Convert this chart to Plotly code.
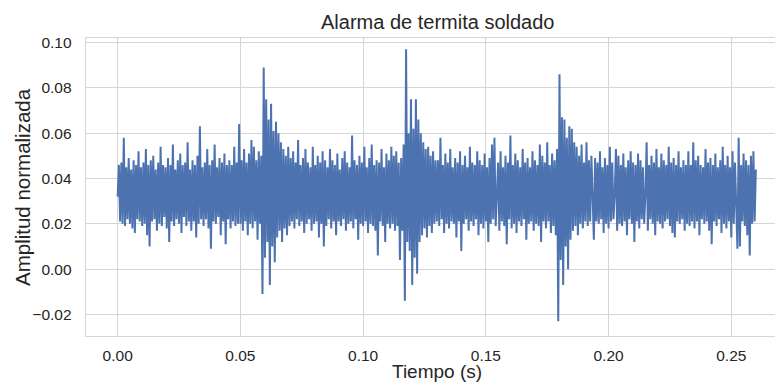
import numpy as np
import plotly.graph_objects as go

# ---- data ----
DURATION = 0.26  # seconds covered by the recording

seg_quiet_1 = [
    0.032, 0.046, 0.021, 0.047, 0.020, 0.058, 0.019, 0.045, 0.022, 0.049,
    0.020, 0.044, 0.018, 0.048, 0.016, 0.046, 0.022, 0.052, 0.021, 0.045,
    0.019, 0.047, 0.020, 0.053, 0.015, 0.046, 0.010, 0.048, 0.021, 0.050,
    0.022, 0.044, 0.017, 0.047, 0.020, 0.054, 0.019, 0.046, 0.023, 0.045,
    0.018, 0.049, 0.012, 0.046, 0.021, 0.055, 0.019, 0.044, 0.022, 0.048,
    0.020, 0.051, 0.016, 0.046, 0.023, 0.047, 0.019, 0.056, 0.021, 0.044,
    0.017, 0.048, 0.021, 0.046, 0.014, 0.050, 0.020, 0.063, 0.022, 0.045,
    0.019, 0.047, 0.022, 0.053, 0.018, 0.046, 0.009, 0.048, 0.021, 0.055,
    0.020, 0.045, 0.023, 0.049, 0.015, 0.047, 0.021, 0.051, 0.011, 0.046,
    0.022, 0.048, 0.018, 0.046, 0.021, 0.054, 0.019, 0.047, 0.020, 0.064,
]
seg_event_1 = [
    0.020, 0.048, 0.017, 0.053, 0.021, 0.047, 0.015, 0.051, 0.020, 0.057,
    0.018, 0.054, 0.021, 0.048, 0.013, 0.052, 0.020, 0.050, -0.011, 0.089,
    0.005, 0.075, 0.012, 0.066, -0.007, 0.073, 0.010, 0.061, 0.003, 0.065,
    0.014, 0.060, 0.017, 0.056, 0.012, 0.053, 0.018, 0.050, 0.015, 0.054,
]
seg_quiet_2 = [
    0.019, 0.049, 0.021, 0.052, 0.018, 0.047, 0.022, 0.057, 0.019, 0.046,
    0.021, 0.049, 0.016, 0.053, 0.020, 0.047, 0.022, 0.045, 0.017, 0.054,
    0.020, 0.046, 0.021, 0.050, 0.014, 0.047, 0.020, 0.052, 0.010, 0.048,
    0.019, 0.045, 0.022, 0.053, 0.018, 0.048, 0.021, 0.046, 0.015, 0.051,
    0.021, 0.044, 0.019, 0.049, 0.022, 0.052, 0.017, 0.047, 0.020, 0.045,
    0.021, 0.059, 0.018, 0.048, 0.022, 0.046, 0.013, 0.050, 0.020, 0.047,
    0.019, 0.054, 0.021, 0.045, 0.016, 0.049, 0.020, 0.055, 0.019, 0.046,
    0.017, 0.048, 0.006, 0.047, 0.021, 0.053, 0.019, 0.045, 0.012, 0.051,
    0.020, 0.048, 0.018, 0.054, 0.020,
]
seg_event_2 = [
    0.050, 0.017, 0.052, 0.019, 0.047, 0.004, 0.049, 0.017, 0.055, -0.014,
    0.097, 0.012, 0.060, 0.008, 0.075, -0.007, 0.062, 0.005, 0.075, -0.002,
    0.066, 0.012, 0.060, 0.015, 0.056, 0.018, 0.053, 0.014, 0.054, 0.019,
    0.050, 0.016, 0.052, 0.020, 0.048,
]
seg_quiet_3 = [
    0.021, 0.048, 0.019, 0.058, 0.022, 0.046, 0.016, 0.051, 0.020, 0.047,
    0.018, 0.053, 0.021, 0.045, 0.020, 0.049, 0.014, 0.047, 0.021, 0.052,
    0.008, 0.046, 0.020, 0.050, 0.022, 0.045, 0.017, 0.054, 0.021, 0.047,
    0.019, 0.046, 0.022, 0.052, 0.015, 0.048, 0.020, 0.046, 0.018, 0.051,
    0.021, 0.045, 0.012, 0.049, 0.020, 0.055, 0.022, 0.058, 0.019, 0.032,
    0.047, 0.017, 0.052, 0.021, 0.045, 0.019, 0.050, 0.011, 0.047, 0.022,
    0.059, 0.018, 0.046, 0.020, 0.051, 0.016, 0.048, 0.021, 0.045, 0.019,
    0.053, 0.022, 0.047, 0.013, 0.049, 0.020, 0.045, 0.021, 0.052, 0.017,
    0.048, 0.020, 0.046, 0.019, 0.055, 0.012, 0.050, 0.021, 0.047, 0.018,
    0.056, 0.021, 0.046, 0.016, 0.051,
]
seg_event_3 = [
    0.019, 0.048, 0.015, 0.053, -0.023, 0.086, 0.004, 0.067, -0.007, 0.066,
    0.010, 0.058, 0.000, 0.063, 0.013, 0.062, 0.017, 0.056, 0.019, 0.054,
    0.015, 0.050, 0.020, 0.055, 0.018,
]
seg_quiet_4 = [
    0.047, 0.021, 0.056, 0.019, 0.048, 0.021, 0.050, 0.032, 0.013, 0.049,
    0.021, 0.047, 0.020, 0.052, 0.022, 0.045, 0.016, 0.049, 0.020, 0.046,
    0.018, 0.054, 0.021, 0.047, 0.022, 0.033, 0.053, 0.017, 0.050, 0.020,
    0.046, 0.019, 0.051, 0.021, 0.045, 0.015, 0.048, 0.022, 0.052, 0.020,
    0.047, 0.012, 0.046, 0.021, 0.051, 0.018, 0.048, 0.022, 0.045, 0.020,
    0.033, 0.056, 0.017, 0.046, 0.022, 0.050, 0.020, 0.047, 0.015, 0.053,
    0.021, 0.045, 0.020, 0.051, 0.018, 0.048, 0.021, 0.046, 0.022, 0.054,
    0.019, 0.047, 0.016, 0.049, 0.014, 0.046, 0.021, 0.052, 0.020, 0.045,
    0.022, 0.048, 0.017, 0.046, 0.020, 0.052, 0.019, 0.046, 0.021, 0.056,
    0.018, 0.048, 0.021, 0.050, 0.015, 0.046, 0.022, 0.045, 0.020, 0.053,
    0.021, 0.047, 0.017, 0.049, 0.011, 0.046, 0.021, 0.051, 0.019, 0.045,
    0.022, 0.048, 0.016, 0.054, 0.020, 0.046, 0.018, 0.050, 0.021, 0.045,
    0.014, 0.052, 0.020, 0.047, 0.032, 0.009, 0.058, 0.010, 0.046, 0.021,
    0.051, 0.019, 0.048, 0.015, 0.046, 0.006, 0.050, 0.020, 0.052, 0.021,
    0.044,
]

amplitude = (seg_quiet_1 + seg_event_1 + seg_quiet_2 + seg_event_2
             + seg_quiet_3 + seg_event_3 + seg_quiet_4)
time_s = np.linspace(0.0, DURATION, len(amplitude))

x_ticks = [0.00, 0.05, 0.10, 0.15, 0.20, 0.25]
y_ticks = [-0.02, 0.00, 0.02, 0.04, 0.06, 0.08, 0.10]

TITLE = "Alarma de termita soldado"
X_LABEL = "Tiempo (s)"
Y_LABEL = "Amplitud normalizada"

# ---- figure ----
FONT = "Liberation Sans, Arial, sans-serif"
TXT = "#262626"
GRID = "#d5d5d5"

fig = go.Figure(go.Scatter(
    x=time_s, y=amplitude, mode="lines",
    line=dict(color="#4C72B0", width=2.0),
    hoverinfo="skip", showlegend=False,
))

fig.update_layout(
    width=775, height=383,
    margin=dict(l=86, r=0, t=38, b=47),
    paper_bgcolor="white", plot_bgcolor="white",
    font=dict(family=FONT, color=TXT),
    annotations=[
        dict(text=TITLE, xref="paper", yref="paper", x=0.5096, y=1.0,
             xanchor="center", yanchor="bottom", yshift=3, showarrow=False,
             font=dict(size=20, color=TXT, family=FONT)),
        dict(text=X_LABEL, xref="paper", yref="paper", x=0.5096, y=0.0,
             xanchor="center", yanchor="bottom", yshift=-47, showarrow=False,
             height=21, borderpad=0, valign="middle",
             font=dict(size=19, color=TXT, family=FONT)),
        dict(text=Y_LABEL, xref="paper", yref="paper", x=0.0, y=0.5,
             xanchor="center", yanchor="middle", xshift=-64, textangle=-90,
             showarrow=False, font=dict(size=20.5, color=TXT, family=FONT)),
    ],
)
fig.update_xaxes(
    range=[-0.0129, 0.2678], tickvals=x_ticks, tickformat=".2f",
    showgrid=True, gridcolor=GRID, gridwidth=1.2, zeroline=False,
    showline=True, linecolor=GRID, linewidth=1.3, mirror=True,
    ticks="", ticklabelstandoff=5, tickfont=dict(size=15.5, color=TXT),
    automargin=False,
)
fig.update_yaxes(
    range=[-0.0295, 0.1020], tickvals=y_ticks, tickformat=".2f",
    showgrid=True, gridcolor=GRID, gridwidth=1.2, zeroline=False,
    showline=True, linecolor=GRID, linewidth=1.3, mirror=False,
    ticks="", ticklabelstandoff=10, tickfont=dict(size=15.5, color=TXT),
    automargin=False,
)

fig.write_html(
    "out.html",
    config={"displayModeBar": False, "staticPlot": True},
    post_script="document.body.style.margin='0';document.body.style.overflow='hidden';",
)
